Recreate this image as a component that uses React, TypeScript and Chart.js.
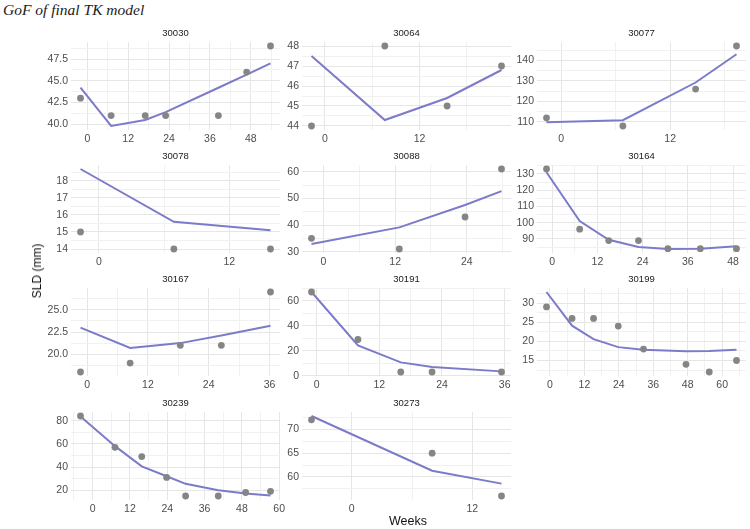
import React, { useEffect, useRef } from 'react';
import { Chart, registerables } from 'chart.js';

Chart.register(...registerables);

// ---------- data (weeks, observed SLD, model-predicted SLD) ----------
const W_30030 = [-2, 7, 17, 23, 38.5, 46.8, 53.8];
const OBS_30030 = [43, 41, 41, 41, 41, 46, 49];
const PRED_30030 = [44.2, 39.8, 40.5, 41.4, 44.2, 45.7, 47.0];
const XT_30030 = [0, 12, 24, 36, 48];
const YT_30030 = [40, 42.5, 45, 47.5];

const W_30064 = [-1.7, 7.6, 15.5, 22.4];
const OBS_30064 = [44, 48, 45, 47];
const PRED_30064 = [47.5, 44.3, 45.4, 46.8];
const XT_30064 = [0, 12, 24];
const YT_30064 = [44, 45, 46, 47, 48];

const W_30077 = [-1.6, 6.8, 14.8, 19.3];
const OBS_30077 = [112, 108, 126, 147];
const PRED_30077 = [109.8, 110.8, 129.2, 143];
const XT_30077 = [0, 12];
const YT_30077 = [110, 120, 130, 140];

const W_30078 = [-1.7, 6.9, 15.8];
const OBS_30078 = [15, 14, 14];
const PRED_30078 = [18.7, 15.6, 15.1];
const XT_30078 = [0, 12];
const YT_30078 = [14, 15, 16, 17, 18];

const W_30088 = [-2, 12.7, 23.7, 29.8];
const OBS_30088 = [35, 31, 43, 61];
const PRED_30088 = [32.9, 39.1, 47.5, 52.7];
const XT_30088 = [0, 12, 24];
const YT_30088 = [30, 40, 50, 60];

const W_30164 = [-1.5, 7.3, 15, 22.9, 30.7, 39.3, 48.9];
const OBS_30164 = [133, 96, 89, 89, 84, 84, 84];
const PRED_30164 = [131, 101, 89.5, 85, 83.8, 84, 85.5];
const XT_30164 = [0, 12, 24, 36, 48];
const YT_30164 = [90, 100, 110, 120, 130];

const W_30167 = [-1.3, 8.5, 18.4, 26.5, 36.2];
const OBS_30167 = [18, 19, 21, 21, 27];
const PRED_30167 = [23.0, 20.7, 21.25, 22.1, 23.2];
const XT_30167 = [0, 12, 24, 36];
const YT_30167 = [20, 22.5, 25];

const W_30191 = [-1, 7.9, 16.1, 22.1, 35.4];
const OBS_30191 = [67, 29, 3, 3, 3];
const PRED_30191 = [67, 24.3, 10.7, 7, 3.5];
const XT_30191 = [0, 12, 24, 36];
const YT_30191 = [0, 20, 40, 60];

const W_30199 = [-1.2, 7.7, 15.2, 23.8, 32.6, 47.4, 55.5, 65];
const OBS_30199 = [29, 26, 26, 24, 18, 14, 12, 15];
const PRED_30199 = [32.9, 24.1, 20.6, 18.5, 17.8, 17.4, 17.5, 17.8];
const XT_30199 = [0, 12, 24, 36, 48, 60];
const YT_30199 = [15, 20, 25, 30];

const W_30239 = [-3.9, 7.2, 15.8, 23.8, 29.9, 40.4, 49.2, 57.2];
const OBS_30239 = [84, 57, 49, 31, 15, 15, 18, 19];
const PRED_30239 = [83.5, 58, 40.6, 32, 25.5, 20, 17.1, 15.4];
const XT_30239 = [0, 12, 24, 36, 48, 60];
const YT_30239 = [20, 40, 60, 80];

const W_30273 = [-4, 8, 14.9];
const OBS_30273 = [72, 65, 56];
const PRED_30273 = [72.8, 61.3, 58.6];
const XT_30273 = [0, 12];
const YT_30273 = [60, 65, 70];

type Panel = {
  id: string;
  weeks: number[];
  obs: number[];
  pred: number[];
  xTicks: number[];
  yTicks: number[];
};

const PANELS: Panel[] = [
  { id: '30030', weeks: W_30030, obs: OBS_30030, pred: PRED_30030, xTicks: XT_30030, yTicks: YT_30030 },
  { id: '30064', weeks: W_30064, obs: OBS_30064, pred: PRED_30064, xTicks: XT_30064, yTicks: YT_30064 },
  { id: '30077', weeks: W_30077, obs: OBS_30077, pred: PRED_30077, xTicks: XT_30077, yTicks: YT_30077 },
  { id: '30078', weeks: W_30078, obs: OBS_30078, pred: PRED_30078, xTicks: XT_30078, yTicks: YT_30078 },
  { id: '30088', weeks: W_30088, obs: OBS_30088, pred: PRED_30088, xTicks: XT_30088, yTicks: YT_30088 },
  { id: '30164', weeks: W_30164, obs: OBS_30164, pred: PRED_30164, xTicks: XT_30164, yTicks: YT_30164 },
  { id: '30167', weeks: W_30167, obs: OBS_30167, pred: PRED_30167, xTicks: XT_30167, yTicks: YT_30167 },
  { id: '30191', weeks: W_30191, obs: OBS_30191, pred: PRED_30191, xTicks: XT_30191, yTicks: YT_30191 },
  { id: '30199', weeks: W_30199, obs: OBS_30199, pred: PRED_30199, xTicks: XT_30199, yTicks: YT_30199 },
  { id: '30239', weeks: W_30239, obs: OBS_30239, pred: PRED_30239, xTicks: XT_30239, yTicks: YT_30239 },
  { id: '30273', weeks: W_30273, obs: OBS_30273, pred: PRED_30273, xTicks: XT_30273, yTicks: YT_30273 },
];

// ---------- layout & style ----------
const FONT = "'Liberation Sans', Arial, Helvetica, sans-serif";
const COL_LEFT = [71, 302, 537];
const ROW_TOP = [42, 165, 288, 412];
const PLOT_W = 209;
const PLOT_H = 88;
const YW = 38; // y-axis block width
const TH = 16; // strip height
const XH = 17; // x-axis block height
const RP = 12; // right padding
const LINE_COLOR = '#7B7BC9';
const POINT_COLOR = '#858585';
const GRID_MAJOR = '#E6E6E6';
const GRID_MINOR = '#F1F1F1';
const TICK_COLOR = '#4D4D4D';

Chart.defaults.font.family = FONT;

function expand(vals: number[]): [number, number] {
  const lo = Math.min(...vals);
  const hi = Math.max(...vals);
  const pad = (hi - lo) * 0.05;
  return [lo - pad, hi + pad];
}

function decimalsOf(ticks: number[]): number {
  let d = 0;
  ticks.forEach((t) => {
    const s = String(t);
    const i = s.indexOf('.');
    if (i >= 0) d = Math.max(d, s.length - i - 1);
  });
  return d;
}

function buildTicks(major: number[], min: number, max: number) {
  const half = (major[1] - major[0]) / 2;
  const eps = 1e-9;
  const kStart = Math.ceil((min - major[0]) / half - eps);
  const kEnd = Math.floor((max - major[0]) / half + eps);
  const out: { value: number; minor: boolean }[] = [];
  for (let k = kStart; k <= kEnd; k++) {
    out.push({ value: major[0] + k * half, minor: Math.abs(k % 2) === 1 });
  }
  return out;
}

function axisOptions(major: number[], range: [number, number], isX: boolean) {
  const dec = decimalsOf(major);
  return {
    type: 'linear',
    min: range[0],
    max: range[1],
    afterBuildTicks: (axis: any) => {
      axis.ticks = buildTicks(major, range[0], range[1]);
    },
    afterFit: (scale: any) => {
      if (isX) scale.height = XH;
      else scale.width = YW;
    },
    border: { display: false },
    grid: {
      drawTicks: false,
      color: (ctx: any) => (ctx.tick && ctx.tick.minor ? GRID_MINOR : GRID_MAJOR),
      lineWidth: 1,
    },
    ticks: {
      autoSkip: false,
      maxRotation: 0,
      minRotation: 0,
      padding: 3,
      color: TICK_COLOR,
      font: { size: 10.5, family: FONT },
      callback: (value: number, index: number, ticks: any[]) =>
        ticks[index] && ticks[index].minor ? '' : Number(value).toFixed(dec),
    },
  };
}

function PanelChart({ p, left, top }: { p: Panel; left: number; top: number }) {
  const ref = useRef<HTMLCanvasElement>(null);
  const w = YW + PLOT_W + RP;
  const h = TH + PLOT_H + XH;
  useEffect(() => {
    const xr = expand(p.weeks);
    const yr = expand([...p.obs, ...p.pred]);
    const chart = new Chart(ref.current as HTMLCanvasElement, {
      type: 'scatter',
      data: {
        datasets: [
          {
            data: p.weeks.map((wk, i) => ({ x: wk, y: p.obs[i] })),
            pointRadius: 3.4,
            pointBackgroundColor: POINT_COLOR,
            pointBorderWidth: 0,
            showLine: false,
            clip: false,
          } as any,
          {
            data: p.weeks.map((wk, i) => ({ x: wk, y: p.pred[i] })),
            showLine: true,
            borderColor: LINE_COLOR,
            borderWidth: 2,
            pointRadius: 0,
            tension: 0,
            fill: false,
            clip: false,
          } as any,
        ],
      },
      options: {
        animation: false,
        responsive: false,
        devicePixelRatio: 1,
        events: [],
        layout: { padding: { left: 0, right: RP, top: 0, bottom: 0 } },
        plugins: {
          legend: { display: false },
          tooltip: { enabled: false },
          title: {
            display: true,
            text: p.id,
            fullSize: false,
            color: '#1A1A1A',
            font: { family: FONT, size: 9.5, weight: 'normal', lineHeight: '11px' },
            padding: { top: 2, bottom: 3 },
          },
        },
        scales: {
          x: axisOptions(p.xTicks, xr, true) as any,
          y: axisOptions(p.yTicks, yr, false) as any,
        },
      } as any,
    });
    return () => chart.destroy();
  }, [p]);
  return (
    <canvas
      ref={ref}
      width={w}
      height={h}
      style={{ position: 'absolute', left: left - YW, top: top - TH, width: w, height: h }}
    />
  );
}

export default function App() {
  return (
    <div
      style={{
        position: 'fixed',
        left: 0,
        top: 0,
        width: 750,
        height: 529,
        background: '#ffffff',
        overflow: 'hidden',
      }}
    >
      <div
        style={{
          position: 'absolute',
          left: 3,
          top: 1,
          fontFamily: "'Liberation Serif', 'DejaVu Serif', serif",
          fontStyle: 'italic',
          fontSize: 15.5,
          color: '#222',
          whiteSpace: 'nowrap',
        }}
      >
        GoF of final TK model
      </div>
      {PANELS.map((p, i) => (
        <PanelChart key={p.id} p={p} left={COL_LEFT[i % 3]} top={ROW_TOP[Math.floor(i / 3)]} />
      ))}
      <div
        style={{
          position: 'absolute',
          left: 37,
          top: 271,
          transform: 'translate(-50%, -50%) rotate(-90deg)',
          fontFamily: FONT,
          fontSize: 12,
          color: '#111',
          whiteSpace: 'nowrap',
        }}
      >
        SLD (mm)
      </div>
      <div
        style={{
          position: 'absolute',
          left: 408,
          top: 521,
          transform: 'translate(-50%, -50%)',
          fontFamily: FONT,
          fontSize: 12.5,
          color: '#111',
          whiteSpace: 'nowrap',
        }}
      >
        Weeks
      </div>
    </div>
  );
}
